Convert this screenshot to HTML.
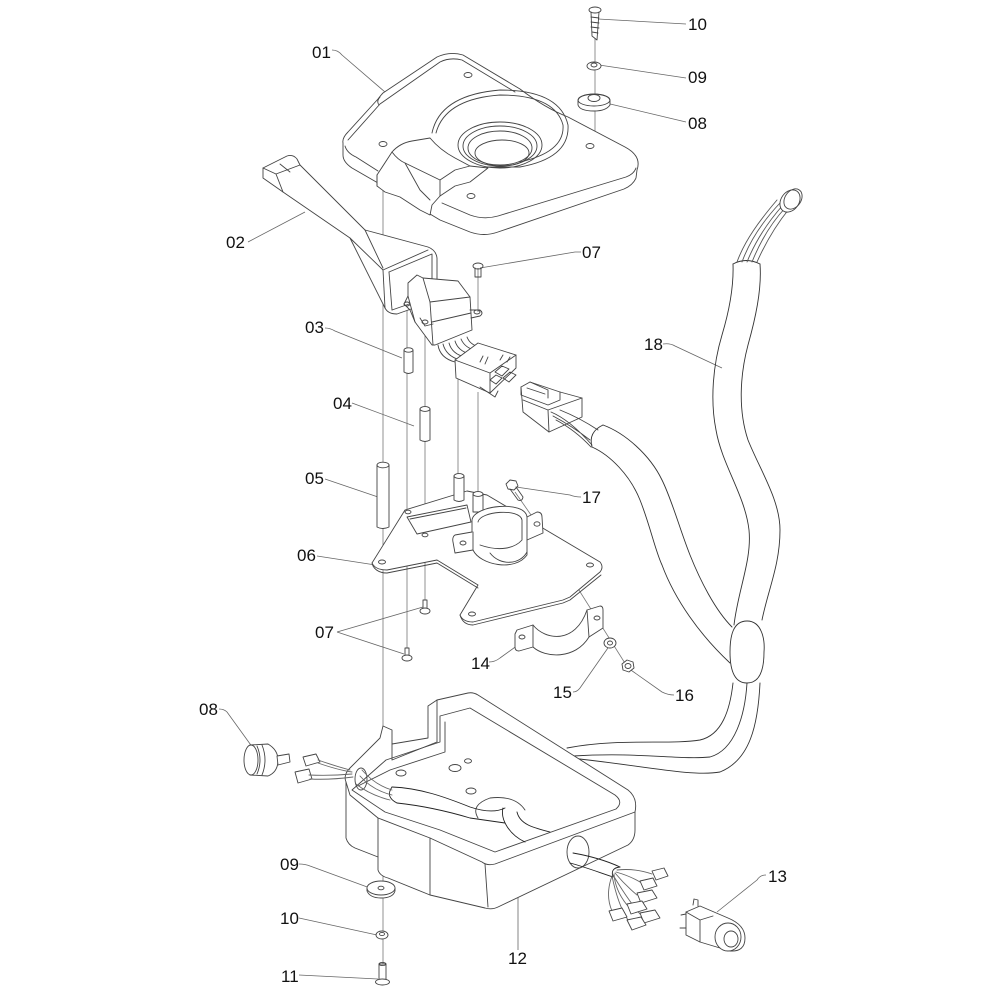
<!DOCTYPE html>
<html><head><meta charset="utf-8"><style>
html,body{margin:0;padding:0;background:#fff;}
svg{display:block}
text{font-family:"Liberation Sans",Arial,sans-serif;font-size:17px;fill:#111}
</style></head><body>
<svg width="1000" height="1000" viewBox="0 0 1000 1000" xmlns="http://www.w3.org/2000/svg">
<rect width="1000" height="1000" fill="#fff"/>

<!-- axis / centre lines -->
<g fill="none" stroke="#777" stroke-width="0.8">
<line x1="382" y1="122" x2="382" y2="138"/>
<line x1="383" y1="188" x2="383" y2="980"/>
<line x1="407" y1="305" x2="407" y2="652"/>
<line x1="425" y1="322" x2="425" y2="602"/>
<line x1="458" y1="378" x2="458" y2="478"/>
<line x1="478" y1="268" x2="478" y2="312"/>
<line x1="478" y1="392" x2="478" y2="496"/>
<line x1="595" y1="38" x2="595" y2="146"/>
<line x1="515" y1="492" x2="538" y2="525"/>
<line x1="538" y1="525" x2="628" y2="668"/>
</g>

<!-- leaders -->
<g fill="none" stroke="#666" stroke-width="0.8">
<path d="M332,50 Q338,50 342,55 L385,92"/>
<path d="M598,19 L686,24"/>
<path d="M599,65 L686,78"/>
<path d="M606,103 L686,122"/>
<path d="M248,242 L305,212"/>
<path d="M480,268 L575,252 Q578,252 581,252"/>
<path d="M663,344 Q670,343 675,346 L722,368"/>
<path d="M325,328 Q330,328 335,331 L402,358"/>
<path d="M352,403 L414,426"/>
<path d="M325,479 L378,497"/>
<path d="M317,556 L382,566"/>
<path d="M581,497 Q575,497 570,495 L516,487"/>
<path d="M337,632 L423,607 M337,632 L404,654"/>
<path d="M489,662 Q495,662 500,658 L518,645"/>
<path d="M573,692 Q577,692 580,688 L610,645"/>
<path d="M674,695 Q668,695 662,692 L628,668"/>
<path d="M219,709 Q224,709 227,712 L253,748"/>
<path d="M299,864 Q305,864 310,866 L370,888"/>
<path d="M299,918 L377,935"/>
<path d="M299,975 L378,979"/>
<path d="M518,950 L518,885"/>
<path d="M766,875 Q760,875 757,880 L717,912"/>
</g>

<g fill="none" stroke="#444" stroke-width="0.9" stroke-linejoin="round" stroke-linecap="round">

<!-- 01 cover plate -->
<path fill="#fff" d="M343,143 Q342,138 348,132 L378,99 Q381,95 383,93 L437,57 Q450,51 463,55 L520,89 Q545,108 568,117 L625,147 Q642,156 637,170 L636,178 Q633,185 624,189 L498,232 Q484,237 470,232 L440,220 L430,214 L430,205 L400,190 L385,190 L378,183 L352,168 Q343,162 343,155 Z"/>
<path d="M345,146 Q347,153 356,157 L378,171"/>
<path d="M636,168 Q634,174 626,177 L498,216 Q484,220 470,215 L442,203"/>
<path d="M348,140 L380,104 L440,62 Q450,57 462,60 L515,92"/>
<path d="M380,97 Q376,101 379,105"/>
<path d="M432,133 Q440,95 500,90 Q560,90 568,125 Q570,158 520,167 L487,167"/>
<path d="M436,133 Q445,99 500,95 Q555,95 563,125 Q565,152 520,162"/>
<ellipse cx="500" cy="145" rx="42" ry="23"/>
<ellipse cx="500" cy="146" rx="37" ry="20"/>
<ellipse cx="500" cy="148" rx="32" ry="17"/>
<ellipse cx="502" cy="153" rx="27" ry="13"/>
<ellipse cx="468" cy="75" rx="4" ry="2.5"/>
<ellipse cx="383" cy="144" rx="4" ry="2.5"/>
<ellipse cx="590" cy="146" rx="4" ry="2.5"/>
<ellipse cx="471" cy="196" rx="4" ry="2.5"/>
<!-- handle block on plate -->
<path fill="#fff" d="M377,175 L392,152 Q400,143 412,141 L430,138 Q440,150 455,158 L470,166 L488,168 L470,182 L455,186 L440,196 L432,205 L430,215 L420,210 L400,197 L385,192 L377,186 Z"/>
<path d="M392,152 Q398,160 405,163 L440,180 L455,170 L470,166"/>
<path d="M405,163 L420,190 L430,200"/>
<path d="M377,186 L377,175"/>
<path d="M440,180 L440,196"/>

<!-- 02 lever -->
<path fill="#fff" d="M263,168 L287,156 Q293,154 297,159 L300,165 L365,230 L428,247 Q436,250 437,258 L437,293 Q435,300 428,303 L397,314 Q388,314 385,308 L350,238 L283,192 L263,178 Z"/>
<path d="M263,168 L276,174 L300,165"/>
<path d="M276,174 L283,192"/>
<path d="M280,164 L290,172"/>
<path d="M350,238 L383,270 L428,250"/>
<path d="M365,230 L383,268"/>
<path d="M383,270 L385,308"/>
<path d="M389,272 L432,254 L432,296 L392,310"/>
<path d="M389,272 L392,310"/>

<!-- switch body -->
<path fill="#fff" d="M408,283 L417,275 L423,278 L458,281 L470,297 L472,330 L435,345 L432,345 L415,322 L408,296 Z"/>
<path d="M423,278 L430,302 L470,297"/>
<path d="M430,302 L433,345"/>
<path d="M432,322 L471,313"/>
<path d="M408,296 L404,304 L410,310 L415,322"/>
<ellipse cx="407" cy="304" rx="3" ry="2"/>
<path d="M420,318 L425,326 L433,324"/>
<ellipse cx="425" cy="322" rx="3" ry="2"/>
<path d="M470,310 L480,310 Q484,313 480,316 L471,318"/>
<ellipse cx="477" cy="312" rx="3" ry="2"/>
<!-- screw 07 top -->
<ellipse cx="478" cy="266" rx="5" ry="3"/>
<path d="M475,268 L475,277 L481,277 L481,268"/>
<!-- wires to connector -->
<path d="M438,345 Q440,358 455,362"/>
<path d="M443,344 Q446,356 460,360"/>
<path d="M449,343 Q452,354 465,357"/>
<path d="M455,341 Q458,351 470,354"/>
<path d="M461,339 Q465,348 475,350"/>
<path d="M467,337 Q470,345 480,347"/>
<!-- connector housing -->
<path fill="#fff" d="M455,360 L478,343 L516,355 L516,368 L490,393 L456,378 Z"/>
<path d="M455,360 L490,373 L516,355"/>
<path d="M490,373 L490,393"/>
<path d="M480,387 L495,397 L498,391"/>
<path d="M495,372 L502,366 L509,369 L502,376 Z M503,378 L510,372 L516,375 L509,382 Z M490,380 L496,375 L502,378 L496,384 Z"/>
<path d="M480,362 L483,356 M485,364 L488,357 M500,360 L503,355 M507,362 L510,357"/>

<!-- mating connector -->
<path fill="#fff" d="M521,387 L530,382 L560,392 L582,398 L582,417 L549,432 L523,412 Z"/>
<path d="M521,387 L521,395 L548,405 L560,400 L560,392"/>
<path d="M530,382 L548,390 L548,398"/>
<path d="M523,400 L548,410 L582,398"/>
<path d="M548,410 L549,432"/>
<path d="M527,388 L545,394"/>
<path d="M551,412 Q570,420 592,445 M553,416 Q572,426 590,440 M556,420 Q575,430 591,447 M560,410 Q580,418 598,430"/>

<!-- 18 harness -->
<g stroke="#333">
<path d="M733,264 C734,290 728,315 722,335 C713,365 710,400 716,430 C722,465 745,495 749,530 C752,560 738,590 734,625"/>
<path d="M760,264 C762,290 755,320 748,345 C740,375 738,410 748,440 C760,470 780,500 780,530 C780,565 768,590 762,620"/>
<path d="M733,264 Q746,257 760,264"/>
<path d="M603,425 C625,433 650,455 662,480 C672,500 680,530 690,555 C700,580 715,610 732,627"/>
<path d="M592,447 C610,455 630,475 640,500 C650,525 655,550 662,565 C675,600 700,635 730,663"/>
<path d="M603,425 Q588,432 592,447"/>
<path fill="#fff" d="M747,621 C762,621 765,640 764,652 C764,670 760,683 747,683 C734,683 730,670 730,652 C730,636 733,621 747,621 Z"/>
<path d="M733,683 C730,710 722,735 700,740 C670,745 620,738 567,748"/>
<path d="M747,683 C745,715 735,750 710,757 C680,760 640,752 573,756"/>
<path d="M760,683 C758,725 750,760 720,772 C690,777 640,765 570,758"/>
</g>
<path stroke="#555" d="M737,262 C745,240 760,220 777,200 M742,262 C750,240 764,220 780,203 M747,262 C755,242 768,222 783,205 M752,262 C760,242 772,222 786,207 M757,262 C765,244 776,225 789,209"/>
<ellipse cx="790" cy="201" rx="9" ry="12" transform="rotate(35 790 201)" fill="#fff"/>
<ellipse cx="793" cy="199" rx="8" ry="11" transform="rotate(35 793 199)"/>

<!-- spacers -->
<g fill="#fff">
<path d="M404,350 L404,372 Q408.5,375 413,372 L413,350"/><ellipse cx="408.5" cy="350" rx="4.5" ry="2.2"/>
<path d="M420,409 L420,440 Q425,443 430,440 L430,409"/><ellipse cx="425" cy="409" rx="5" ry="2.4"/>
<path d="M377,465 L377,527 Q383,530 389,527 L389,465"/><ellipse cx="383" cy="465" rx="6" ry="2.8"/>
</g>

<!-- 06 plate -->
<path fill="#fff" d="M405,510 L467,491 L487,495 L600,562 Q604,567 600,572 L570,597 L563,600 L473,622 Q463,622 460,615 L478,585 L437,560 L387,570 Q375,570 372,563 Z"/>
<path d="M372,563 L373,566 Q377,573 387,573 L437,563 L478,588"/>
<path d="M460,615 Q463,625 473,625 L563,603 L570,600 L601,575"/>
<path fill="#fff" d="M407,517 L467,505 L471,522 L417,534 Z"/>
<path d="M410,519 L466,508"/>
<ellipse cx="382" cy="562" rx="3.5" ry="2"/>
<ellipse cx="408" cy="512" rx="3" ry="1.8"/>
<ellipse cx="425" cy="535" rx="3" ry="1.8"/>
<ellipse cx="590" cy="565" rx="3.5" ry="2"/>
<ellipse cx="472" cy="614" rx="3.5" ry="2"/>
<!-- spacers on plate -->
<g fill="#fff">
<path d="M454,476 L454,500 Q459,503 464,500 L464,476"/><ellipse cx="459" cy="476" rx="5" ry="2.4"/>
<path d="M473,494 L473,512 L483,512 L483,494"/><ellipse cx="478" cy="494" rx="5" ry="2.4"/>
</g>
<!-- upper clamp -->
<path fill="#fff" d="M472,520 C474,505 525,500 527,517 L537,512 Q542,512 542,517 L543,533 L527,540 L527,555 C515,572 480,565 473,550 L455,553 L453,542 Q452,537 455,535 L472,532 Z"/>
<path d="M478,522 C480,511 520,508 522,520 L522,540 C515,548 500,552 480,545"/>
<path d="M473,532 L473,550"/>
<path d="M527,517 L527,540"/>
<path d="M490,553 C500,566 520,565 527,552"/>
<ellipse cx="463" cy="543" rx="3" ry="2"/>
<ellipse cx="537" cy="524" rx="3" ry="2.2"/>
<!-- screw 17 -->
<path fill="#fff" d="M506,484 L510,480 L516,481 L518,486 L514,490 L508,489 Z"/>
<path d="M510,489 L518,500 Q522,502 523,497 L516,487"/>
<!-- lower screws 07 -->
<path fill="#fff" d="M423,600 L423,609 L427,609 L427,600 Z"/>
<ellipse cx="425" cy="611" rx="5" ry="3" fill="#fff"/>
<path fill="#fff" d="M405,648 L405,656 L409,656 L409,648 Z"/>
<ellipse cx="407" cy="658" rx="5" ry="3" fill="#fff"/>
<!-- 14 lower clamp -->
<path fill="#fff" d="M517,630 L533,625 C545,640 575,645 587,610 L600,606 Q603,606 603,610 L603,628 L589,637 C575,660 545,658 533,647 L519,651 Q515,651 515,647 L515,634 Z"/>
<path d="M533,625 L533,647"/>
<path d="M587,610 L589,637"/>
<ellipse cx="522" cy="637" rx="3" ry="2"/>
<ellipse cx="597" cy="618" rx="3" ry="2"/>
<!-- 15 washer, 16 nut -->
<ellipse cx="610" cy="643" rx="6" ry="5" fill="#fff"/>
<ellipse cx="610" cy="643" rx="2.5" ry="2"/>
<path fill="#fff" d="M622,664 L627,660 L633,662 L634,668 L629,672 L623,670 Z"/>
<ellipse cx="628" cy="666" rx="3" ry="2.5"/>

<!-- top right 10/09/08 -->
<ellipse cx="595" cy="10" rx="6" ry="3" fill="#fff"/>
<path d="M591,12 L592,36 L597,40 L599,12"/>
<path d="M591,17 L599,18 M591,22 L599,23 M591,27 L599,28 M592,32 L598,33"/>
<ellipse cx="594" cy="66" rx="7" ry="4" fill="#fff"/>
<ellipse cx="594" cy="65" rx="3" ry="2"/>
<path fill="#fff" d="M578,101 Q578,95 594,94 Q610,95 610,101 L610,105 Q606,111 594,111 Q580,111 578,105 Z"/>
<ellipse cx="594" cy="100" rx="16" ry="6"/>
<ellipse cx="594" cy="98" rx="6" ry="3.5"/>

<!-- 12 box -->
<path fill="#fff" d="M437,700 L468,693 Q473,692 478,695 L628,790 Q638,798 635,812 L635,830 Q635,840 628,845 L498,907 Q492,910 485,908 L430,895 L388,878 Q380,876 378,870 L378,857 L355,848 Q348,845 346,838 L346,782 Q343,775 350,768 L380,738 L383,726 L392,730 L392,744 L428,738 L428,706 Z"/>
<path d="M346,782 L350,795 L378,818 L430,838 L482,862 Q487,866 495,864 L635,812"/>
<path d="M378,818 L378,857"/>
<path d="M430,838 L430,895"/>
<path d="M485,864 L488,907"/>
<path d="M437,700 L437,742"/>
<path d="M392,744 L392,760 L437,742"/>
<path d="M352,790 L386,760 L440,742 L440,716 L470,708 L615,795 Q624,802 616,809 L495,852 L440,830 L385,812 Z"/>
<path d="M358,786 L390,770 L445,752 L445,722"/>
<ellipse cx="401" cy="773" rx="5" ry="3"/>
<ellipse cx="455" cy="768" rx="6" ry="3.5"/>
<ellipse cx="468" cy="761" rx="3.5" ry="2.2"/>
<ellipse cx="471" cy="791" rx="5" ry="3"/>
<path d="M478,818 Q470,805 490,798 Q515,795 525,810"/>
<ellipse cx="361" cy="779" rx="6" ry="11"/>
<ellipse cx="578" cy="852" rx="11" ry="16" fill="#fff"/>
<!-- internal cables -->
<g stroke="#222">
<path d="M392,787 C420,788 445,797 470,807 C485,812 497,812 505,808"/>
<path d="M397,803 C425,806 450,812 470,818 L505,823"/>
<path d="M392,787 Q385,797 397,803"/>
<path d="M503,808 C500,820 510,835 525,842"/>
<path d="M517,812 C520,825 535,828 550,832"/>
<path d="M573,853 C590,856 605,860 620,867"/>
<path d="M570,863 C585,867 598,872 613,877"/>
<path d="M620,867 Q610,868 613,877"/>
</g>
<path stroke="#666" d="M392,790 Q375,785 362,770 M392,795 Q372,790 360,776 M390,800 Q370,795 356,784"/>

<!-- bottom right wires & terminals -->
<path stroke="#666" d="M617,870 Q635,868 652,874 M616,872 Q630,876 640,882 M615,873 Q625,885 637,895 M614,874 Q615,890 627,905 M613,875 Q628,900 640,914 M612,876 Q605,895 612,911 M612,876 Q618,905 628,920"/>
<g fill="#fff">
<path d="M652,871 L664,868 L668,876 L656,880 Z"/>
<path d="M640,881 L653,878 L657,886 L644,890 Z"/>
<path d="M637,893 L652,890 L657,898 L641,903 Z"/>
<path d="M627,904 L642,901 L647,909 L631,914 Z"/>
<path d="M640,913 L655,910 L660,918 L644,923 Z"/>
<path d="M609,911 L622,908 L627,917 L613,921 Z"/>
<path d="M627,920 L641,917 L646,925 L632,930 Z"/>
</g>
<!-- 13 connector -->
<path fill="#fff" d="M686,912 L700,906 L728,918 Q745,925 745,938 Q745,952 730,951 L700,942 L686,935 Z"/>
<path d="M686,912 L700,920 L713,916"/>
<path d="M700,920 L700,942"/>
<ellipse cx="728" cy="937" rx="13" ry="14" fill="#fff"/>
<ellipse cx="731" cy="939" rx="7" ry="8"/>
<path d="M681,915 L686,914 M680,928 L686,928 M693,905 L694,899 L698,900 L698,906"/>

<!-- 08 left grommet -->
<path fill="#fff" d="M250,745 L268,744 Q278,750 278,760 Q278,772 268,776 L250,775 Z"/>
<ellipse cx="251" cy="760" rx="7" ry="15" fill="#fff"/>
<path d="M257,746 Q263,760 257,774 M262,745 Q268,760 262,775"/>
<path fill="#fff" d="M277,756 L289,754 L290,762 L278,765 Z"/>
<path fill="#fff" d="M303,757 L316,754 L320,762 L306,766 Z"/>
<path fill="#fff" d="M295,772 L309,769 L312,779 L298,783 Z"/>
<path stroke="#666" d="M318,760 Q335,766 350,770 M309,775 Q330,776 352,774 M318,763 Q338,770 352,772 M310,779 Q330,780 353,777"/>

<!-- bottom left washers & screw -->
<path fill="#fff" d="M367,888 L367,891 Q370,898 381,898 Q393,898 395,891 L395,888"/>
<ellipse cx="381" cy="888" rx="14" ry="7" fill="#fff"/>
<ellipse cx="381" cy="888" rx="3" ry="1.8"/>
<ellipse cx="382" cy="935" rx="6" ry="4" fill="#fff"/>
<ellipse cx="382" cy="934" rx="2.5" ry="1.6"/>
<path fill="#fff" d="M379,964 L379,980 L386,980 L386,964 Z"/>
<ellipse cx="382.5" cy="964" rx="3.5" ry="1.6"/>
<ellipse cx="382.5" cy="982" rx="7" ry="3" fill="#fff"/>
</g>

<!-- labels -->
<text x="312" y="58">01</text>
<text x="688" y="30">10</text>
<text x="688" y="83">09</text>
<text x="688" y="129">08</text>
<text x="226" y="248">02</text>
<text x="582" y="258">07</text>
<text x="644" y="350">18</text>
<text x="305" y="333">03</text>
<text x="333" y="409">04</text>
<text x="305" y="484">05</text>
<text x="297" y="561">06</text>
<text x="582" y="503">17</text>
<text x="315" y="638">07</text>
<text x="471" y="669">14</text>
<text x="553" y="698">15</text>
<text x="675" y="701">16</text>
<text x="199" y="715">08</text>
<text x="280" y="870">09</text>
<text x="280" y="924">10</text>
<text x="281" y="982">11</text>
<text x="508" y="964">12</text>
<text x="768" y="882">13</text>
</svg>
</body></html>
